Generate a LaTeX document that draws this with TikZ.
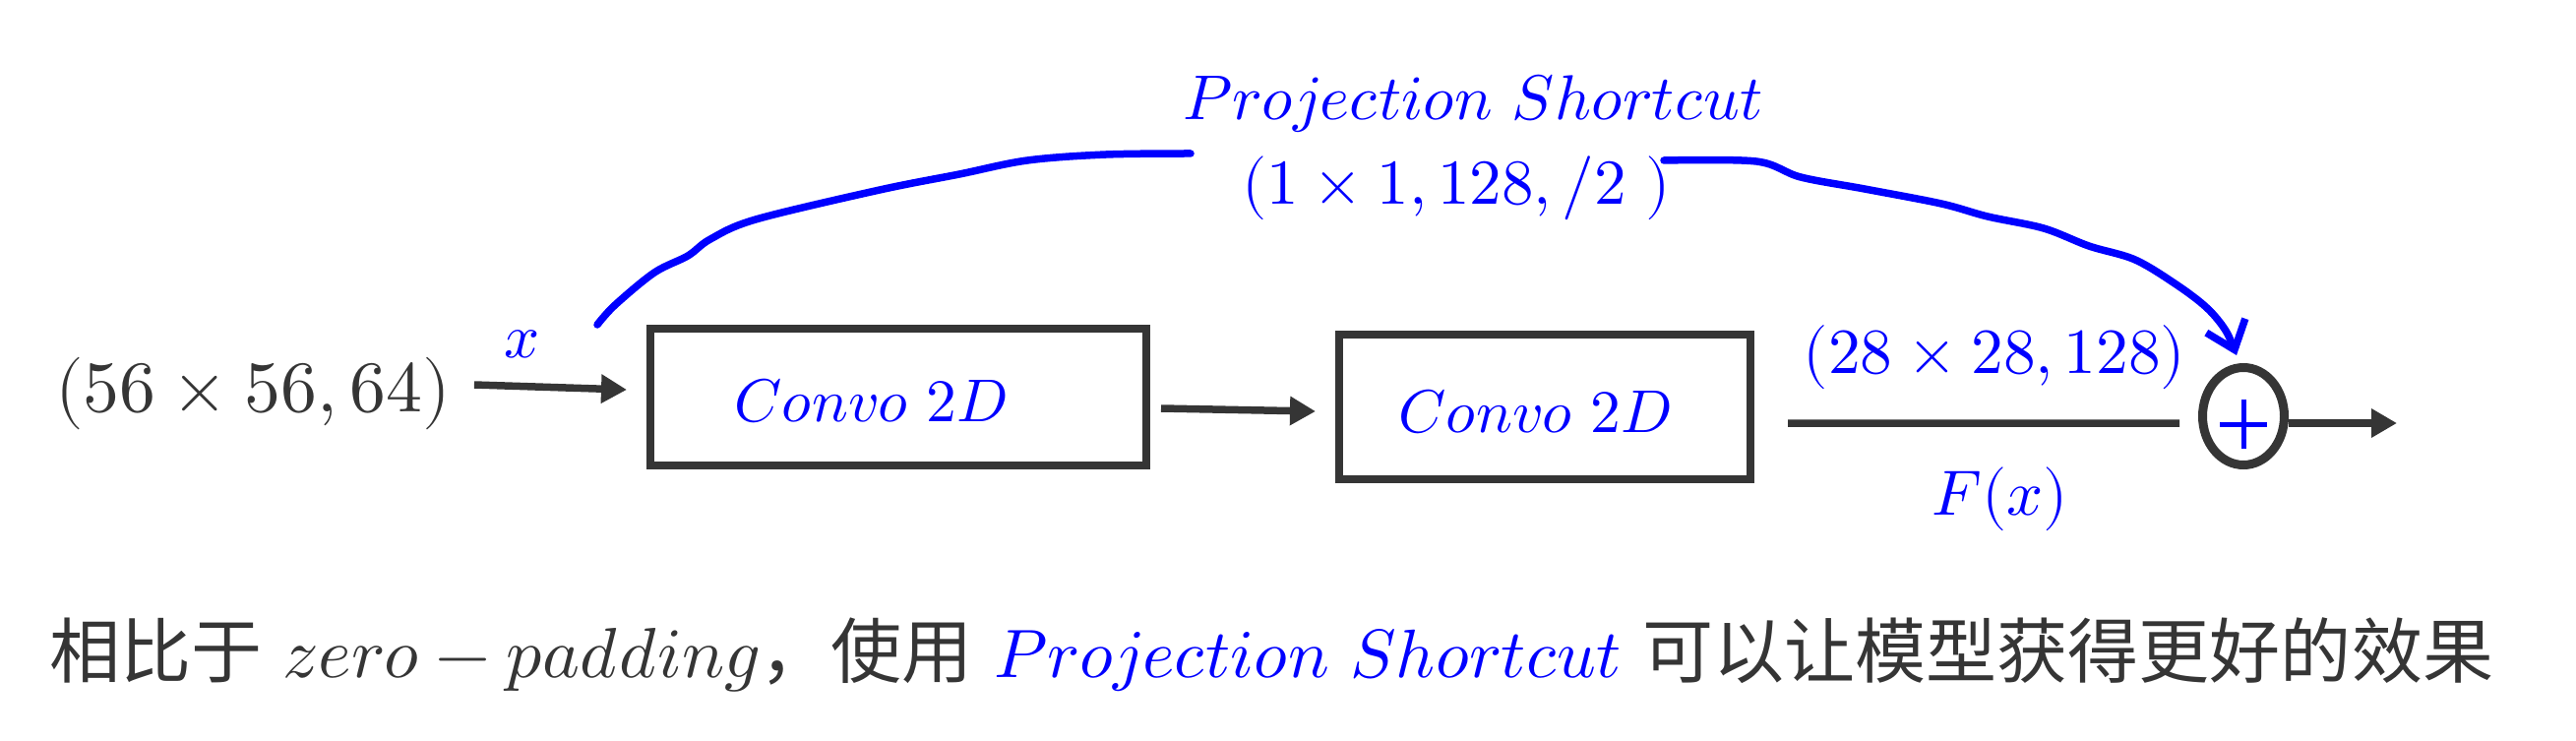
\documentclass[tikz,border=0pt]{standalone}
\usepackage{fontspec}
\usepackage{unicode-math}
\setmathfont{Latin Modern Math}
\newfontfamily\cjk{Noto Sans CJK SC}
\usetikzlibrary{arrows.meta,shapes.geometric}
\definecolor{dg}{HTML}{353535}
\definecolor{bl}{RGB}{0,0,255}
\begin{document}
\begin{tikzpicture}[x=0.1mm,y=-0.1mm,
  txt/.style={inner sep=0pt, outer sep=0pt},
  box/.style={draw=dg, line width=0.8mm, inner sep=0pt, outer sep=0pt},
  arr/.style={draw=dg, line width=0.75mm, -{Triangle[length=2.6mm,width=2.8mm]}},
  sc/.style={draw=bl, line width=0.75mm, line cap=round, line join=round}]
\useasboundingbox (0,0) rectangle (2618,753);

% input label
\node[txt, text=dg, font=\fontsize{21}{25}\selectfont] (in) at (257,400) {$(56\times 56, 64)$};

% boxes
\node[box, minimum width=50.4mm, minimum height=13.9mm] (b1) at (913,403.5) {};
\node[txt, text=bl, font=\fontsize{17.5}{21}\selectfont] (t1) at (885,407) {$Convo\ 2D$};
\node[box, minimum width=41.8mm, minimum height=14.7mm] (b2) at (1570,413.5) {};
\node[txt, text=bl, font=\fontsize{17.5}{21}\selectfont] (t2) at (1560,418) {$Convo\ 2D$};

% sum node
\node[draw=dg, line width=0.9mm, ellipse, minimum width=8.3mm, minimum height=9.9mm, inner sep=0pt, outer sep=0pt] (plus) at (2280,423) {};
\draw[bl, line width=0.5mm] ([shift={(-24,8)}]plus.center) -- ([shift={(24,8)}]plus.center)
  ([shift={(0,-17)}]plus.center) -- ([shift={(0,33)}]plus.center);
\coordinate (out) at (2436,430);

% connectors
\draw[arr] ([shift={(24,-9)}]in.east) -- ([shift={(-24,-7.5)}]b1.west);
\draw[arr] ([shift={(15,11.5)}]b1.east) -- ([shift={(-24,4.5)}]b2.west);
\draw[dg, line width=0.75mm] ([shift={(38,16.5)}]b2.east) -- ([shift={(-23.5,7)}]plus.west);
\draw[arr] ([shift={(4,7)}]plus.east) -- (out);

% labels
\node[txt, text=bl, font=\fontsize{18}{22}\selectfont] (xl) at (531,350) {$x$};
\node[txt, text=bl, font=\fontsize{18.6}{22}\selectfont] (dim2) at (2027,363) {$(28\times 28, 128)$};
\node[txt, text=bl, font=\fontsize{18.5}{22}\selectfont] (fx) at (2033,507) {$F(x)$};
\node[txt, text=bl, font=\fontsize{18.3}{22}\selectfont, anchor=base] (ps) at (1497,122) {$Projection\ Shortcut$};
\node[txt, text=bl, font=\fontsize{18.5}{22}\selectfont] (psdim) at (1480,191) {$(1\times 1, 128, /2\ )$};

% projection shortcut curve
\coordinate (cs) at (607,330);
\coordinate (ce) at (2273,361);
\draw[sc] plot[smooth, tension=0.55] coordinates {(cs) (625,310) (665,277) (699,260) (722,243) (768,223) (894,193) (975,177) (1044,163) (1124,157) (1210,156)};
\draw[sc, -{Straight Barb[length=2.6mm,width=4.2mm]}] plot[smooth, tension=0.55] coordinates {(1691,163) (1785,164) (1830,180) (1895,192) (1973,207) (2020,220) (2077,232) (2123,250) (2170,264) (2213,290) (2243,313) (2262,336) (ce)};

% caption
\node[txt, text=dg, font=\fontsize{20.5}{25}\selectfont, anchor=base west] (cap) at (50,688)
  {{\cjk 相比于} $zero-padding${\cjk ，使用} \textcolor{bl}{\fontsize{19.8}{25}\selectfont$Projection\ Shortcut$} {\cjk 可以让模型获得更好的效果}};
\end{tikzpicture}
\end{document}
